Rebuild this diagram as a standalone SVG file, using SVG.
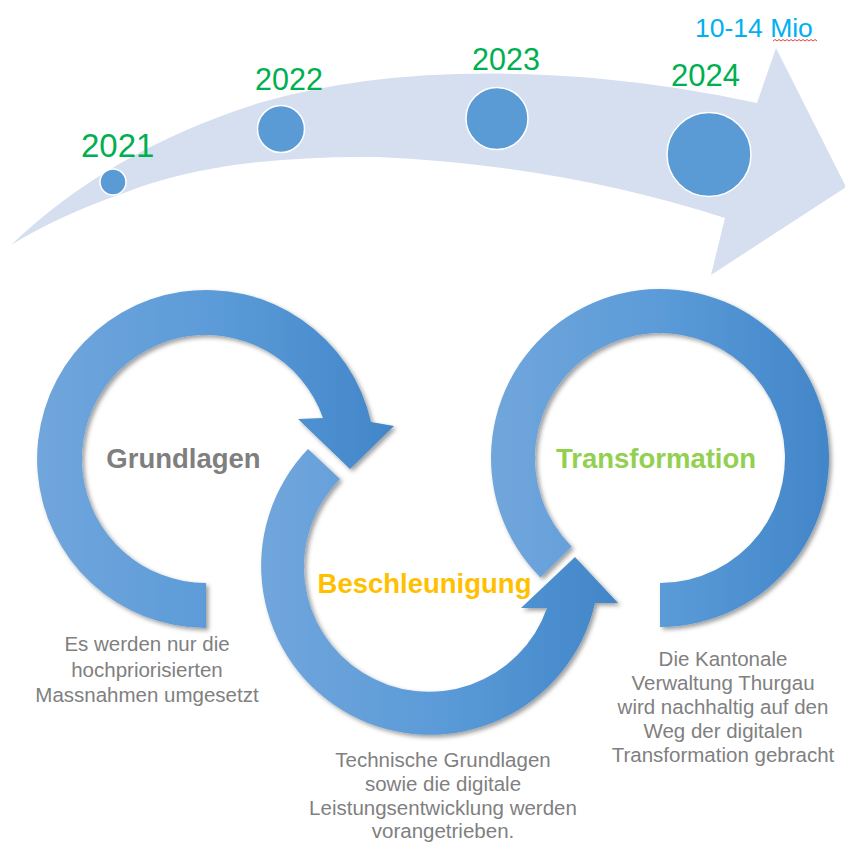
<svg xmlns="http://www.w3.org/2000/svg" width="845" height="843" viewBox="0 0 845 843">
  <defs>
    <linearGradient id="ringGrad" x1="0" y1="0" x2="1" y2="0">
      <stop offset="0" stop-color="#71A6DC"/>
      <stop offset="0.5" stop-color="#5B9BD8"/>
      <stop offset="1" stop-color="#4286C9"/>
    </linearGradient>
    <filter id="shadow" x="-10%" y="-10%" width="120%" height="120%">
      <feDropShadow dx="2.5" dy="2.5" stdDeviation="2.2" flood-color="#000" flood-opacity="0.38"/>
    </filter>
    <style>
      .band { fill: #D5DFEF; }
      .dot { fill: #5B9BD5; stroke: #FFFFFF; stroke-width: 1.5; }
      .year { font-family: "Liberation Sans", Arial, sans-serif; fill: #00B050; }
      .ring { fill: url(#ringGrad); filter: url(#shadow); }
      .phase { font-family: "Liberation Sans", Arial, sans-serif; font-weight: bold; font-size: 27.5px; text-anchor: middle; }
      .desc { font-family: "Liberation Sans", Arial, sans-serif; font-size: 20.5px; fill: #808080; text-anchor: middle; }
    </style>
  </defs>
  <rect width="845" height="843" fill="#FFFFFF"/>

  <g id="connectors">
    <path id="timeline-arrow" class="band" d="M11,245 Q110,150 259,103 Q400,62 593,78 Q680,86 757,103 L776,48 L846,187 L711,275 L725,218 Q560,165 377,157 Q220,155 124,193 Q60,215 11,245 Z"/>
    <path id="arrow-grundlagen" class="ring" d="M206,628 A169,169 0 1 1 371,422 L394,426 L350,469 L298,419 L323,418 A124,124 0 1 0 206,583 Z"/>
    <path id="arrow-beschleunigung" class="ring" d="M308,449 A169,169 0 1 0 595,603 L618,603 L575,557 L521,608 L547,608 A125,125 0 1 1 340,479 Z"/>
    <path id="arrow-transformation" class="ring" d="M660,627 A169,169 0 1 0 540.5,577.5 L571.6,546.4 A125,125 0 1 1 660,583 Z"/>
  </g>

  <g id="year-2021">
    <circle class="dot" cx="113" cy="182" r="13"/>
    <text class="year" x="81" y="157" font-size="33">2021</text>
  </g>
  <g id="year-2022">
    <circle class="dot" cx="281" cy="129" r="23.5"/>
    <text class="year" x="255" y="90" font-size="30.5">2022</text>
  </g>
  <g id="year-2023">
    <circle class="dot" cx="497" cy="118.5" r="31"/>
    <text class="year" x="472" y="70" font-size="30.5">2023</text>
  </g>
  <g id="year-2024">
    <circle class="dot" cx="709" cy="154.5" r="42"/>
    <text class="year" x="671" y="86" font-size="31">2024</text>
  </g>
  <g id="budget">
    <text x="695" y="37" font-family="Liberation Sans, Arial, sans-serif" font-size="26.5" fill="#00B0F0">10-14 Mio</text>
    <polyline points="773,41 775,39.5 777,41 779,39.5 781,41 783,39.5 785,41 787,39.5 789,41 791,39.5 793,41 795,39.5 797,41 799,39.5 801,41 803,39.5 805,41 807,39.5 809,41 811,39.5 813,41 815,39.5 817,41" fill="none" stroke="#E03030" stroke-width="0.9"/>
  </g>

  <g id="grundlagen">
    <text class="phase" x="183.5" y="468" fill="#7F7F7F">Grundlagen</text>
    <text class="desc" x="147" y="651">Es werden nur die</text>
    <text class="desc" x="147" y="676.5">hochpriorisierten</text>
    <text class="desc" x="147" y="702">Massnahmen umgesetzt</text>
  </g>
  <g id="beschleunigung">
    <text class="phase" x="424.5" y="593" fill="#FFC000">Beschleunigung</text>
    <text class="desc" x="443" y="766.5">Technische Grundlagen</text>
    <text class="desc" x="443" y="790.5">sowie die digitale</text>
    <text class="desc" x="443" y="814.5">Leistungsentwicklung werden</text>
    <text class="desc" x="443" y="837.5">vorangetrieben.</text>
  </g>
  <g id="transformation">
    <text class="phase" x="656" y="468" fill="#92D050">Transformation</text>
    <text class="desc" x="723" y="666">Die Kantonale</text>
    <text class="desc" x="723" y="690">Verwaltung Thurgau</text>
    <text class="desc" x="723" y="714">wird nachhaltig auf den</text>
    <text class="desc" x="723" y="738">Weg der digitalen</text>
    <text class="desc" x="723" y="762">Transformation gebracht</text>
  </g>
</svg>
